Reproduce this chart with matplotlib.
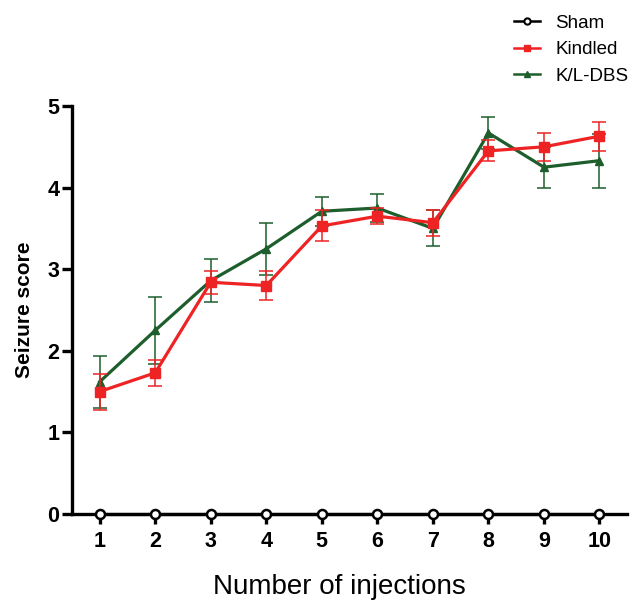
import matplotlib.pyplot as plt
from matplotlib.lines import Line2D

plt.rcParams['font.family'] = ['Liberation Sans', 'DejaVu Sans']

injections = [1, 2, 3, 4, 5, 6, 7, 8, 9, 10]
sham = [0, 0, 0, 0, 0, 0, 0, 0, 0, 0]
kindled = [1.50, 1.73, 2.84, 2.80, 3.53, 3.65, 3.57, 4.45, 4.50, 4.63]
kindled_err = [0.22, 0.16, 0.14, 0.18, 0.19, 0.10, 0.16, 0.13, 0.17, 0.18]
dbs = [1.62, 2.25, 2.86, 3.25, 3.71, 3.75, 3.50, 4.67, 4.25, 4.33]
dbs_err = [0.32, 0.41, 0.26, 0.32, 0.18, 0.17, 0.22, 0.20, 0.25, 0.33]

red = '#ee2324'
green = '#1d5e2c'

fig = plt.figure(figsize=(6.42, 6.03), dpi=100)
ax = fig.add_axes([0.112, 0.1476, 0.865, 0.6766])

ax.errorbar(injections, kindled, yerr=kindled_err, color=red, lw=2.3,
            marker='s', ms=7, elinewidth=1.1, capsize=5, capthick=1.1,
            zorder=3)
ax.errorbar(injections, dbs, yerr=dbs_err, color=green, lw=2.3,
            marker='^', ms=6, elinewidth=1.1, capsize=5, capthick=1.1,
            zorder=2)
ax.plot(injections, sham, color='black', lw=2.3, marker='o', ms=6.5,
        mfc='white', mec='black', mew=1.8, zorder=4, clip_on=False)

ax.set_xlim(0.5, 10.5)
ax.set_ylim(0, 5)
ax.set_xticks(injections)
ax.set_yticks([0, 1, 2, 3, 4, 5])
for sp in ['top', 'right']:
    ax.spines[sp].set_visible(False)
for sp in ['left', 'bottom']:
    ax.spines[sp].set_linewidth(2.4)
ax.tick_params(axis='y', width=2.4, length=7, labelsize=15.5, pad=2)
ax.tick_params(axis='x', width=2.4, length=7, labelsize=15.5, pad=5)
for lab in ax.get_xticklabels() + ax.get_yticklabels():
    lab.set_fontweight('bold')

ax.set_ylabel('Seizure score', fontsize=15, fontweight='bold', labelpad=10)
ax.set_xlabel('Number of injections', fontsize=20)
ax.xaxis.set_label_coords(0.481, -0.147)

handles = [
    Line2D([], [], color='black', lw=1.8, marker='o', ms=4.5, mfc='white',
           mew=1.5),
    Line2D([], [], color=red, lw=1.8, marker='s', ms=4.5),
    Line2D([], [], color=green, lw=1.8, marker='^', ms=4.5),
]
fig.legend(handles, ['Sham', 'Kindled', 'K/L-DBS'],
           loc='upper right', bbox_to_anchor=(1.005, 1.004), frameon=False,
           fontsize=13.5, handlelength=1.4, labelspacing=0.5,
           handletextpad=0.8)

fig.savefig('out.png', dpi=100)
